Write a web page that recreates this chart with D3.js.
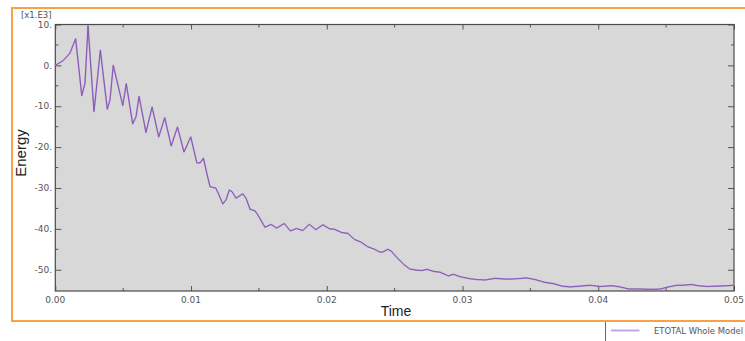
<!DOCTYPE html>
<html><head><meta charset="utf-8">
<script src="https://cdn.jsdelivr.net/npm/d3@7"></script>
<style>html,body{margin:0;padding:0;background:#fff;}svg{display:block;}</style>
</head><body>
<svg id="chart" width="745" height="341"></svg>
<script>
// Time (s)
const time = [0,0.00057,0.00108,0.0015,0.00195,0.00219,0.00241,0.00285,0.00332,0.00383,0.00403,0.00427,0.00452,0.00497,0.00523,0.0057,0.00595,0.00617,0.00668,0.00713,0.00762,0.00806,0.00854,0.009,0.00948,0.00998,0.01042,0.01066,0.01091,0.01116,0.0114,0.01182,0.01201,0.01234,0.01258,0.01282,0.01302,0.01332,0.01381,0.01405,0.01435,0.01472,0.01496,0.01545,0.0159,0.0163,0.01687,0.01732,0.01777,0.01823,0.01871,0.0192,0.01971,0.02021,0.02057,0.0211,0.02155,0.02205,0.0225,0.02303,0.02346,0.02393,0.02417,0.02448,0.02474,0.02516,0.02565,0.02609,0.02663,0.027,0.02737,0.02786,0.02835,0.02896,0.02933,0.02982,0.03056,0.03105,0.03167,0.0324,0.03326,0.034,0.03474,0.03535,0.03609,0.0367,0.03732,0.03793,0.03867,0.0394,0.04014,0.041,0.04162,0.04223,0.04309,0.04383,0.04457,0.04517,0.04579,0.04628,0.04682,0.04738,0.048,0.04874,0.04948,0.05];
// ETOTAL Whole Model (x1.E3)
const energy = [0,1.15,3.0,6.5,-7.4,-4.3,9.7,-11.3,3.7,-10.7,-8.4,0.0,-3.5,-9.8,-4.5,-14.3,-12.5,-7.6,-16.4,-10.2,-17.5,-12.8,-19.7,-15.1,-21.2,-17.5,-23.8,-23.9,-22.7,-26.4,-29.7,-30.0,-31.3,-33.9,-32.9,-30.5,-30.9,-32.5,-31.4,-32.5,-35.2,-35.6,-36.8,-39.6,-38.9,-39.8,-38.7,-40.5,-39.9,-40.4,-38.9,-40.2,-39.0,-40.0,-40.1,-40.9,-41.1,-42.6,-43.2,-44.4,-44.9,-45.7,-45.6,-45.0,-45.4,-47.0,-48.6,-49.8,-50.1,-50.2,-49.9,-50.4,-50.6,-51.5,-51.1,-51.7,-52.2,-52.4,-52.5,-52.1,-52.3,-52.2,-52.0,-52.4,-53.1,-53.4,-54.0,-54.2,-54.0,-53.8,-54.1,-53.9,-54.2,-54.7,-54.7,-54.8,-54.7,-54.2,-53.8,-53.8,-53.6,-53.9,-54.1,-54.0,-53.9,-53.8];
const xTicks = [0,0.01,0.02,0.03,0.04,0.05];
const xTickLabels = ["0.00","0.01","0.02","0.03","0.04","0.05"];
const yTicks = [10,0,-10,-20,-30,-40,-50];
const yTickLabels = ["10.","0.","-10.","-20.","-30.","-40.","-50."];
const xMinor = [0.005,0.015,0.025,0.035,0.045];
const yMinor = [5,-5,-15,-25,-35,-45];
const seriesName = "ETOTAL Whole Model";
const scaleLabel = "[x1.E3]";

const svg = d3.select("#chart");
const L = 55.3, R = 734, T = 24.5, B = 291;
const x = d3.scaleLinear().domain([0,0.05]).range([L,R]);
const y = d3.scaleLinear().domain([-55.2,10]).range([B,T]);

// orange frame
svg.append("rect").attr("x",12).attr("y",8).attr("width",760).attr("height",313)
  .attr("fill","none").attr("stroke","#f8a145").attr("stroke-width",2);

// plot bg
svg.append("rect").attr("x",L).attr("y",T).attr("width",R-L).attr("height",B-T).attr("fill","#d8d8d8");

const tickCol = "#555";
// bottom axis
const gB = svg.append("g").attr("transform",`translate(0,${B})`);
gB.call(d3.axisBottom(x).tickValues(xTicks).tickSize(-5).tickFormat(""));
gB.call(g=>g.selectAll(".domain").remove());
gB.selectAll(".minor").data(xMinor).enter().append("line").attr("x1",d=>x(d)).attr("x2",d=>x(d)).attr("y1",0).attr("y2",-3).attr("stroke",tickCol);
// top axis
const gT = svg.append("g").attr("transform",`translate(0,${T})`);
gT.call(d3.axisTop(x).tickValues(xTicks).tickSize(-5).tickFormat(""));
gT.call(g=>g.selectAll(".domain").remove());
gT.selectAll(".minor").data(xMinor).enter().append("line").attr("x1",d=>x(d)).attr("x2",d=>x(d)).attr("y1",0).attr("y2",3).attr("stroke",tickCol);
// left axis
const gL = svg.append("g").attr("transform",`translate(${L},0)`);
gL.call(d3.axisLeft(y).tickValues(yTicks).tickSize(-6).tickFormat(""));
gL.call(g=>g.selectAll(".domain").remove());
gL.selectAll(".minor").data(yMinor).enter().append("line").attr("y1",d=>y(d)).attr("y2",d=>y(d)).attr("x1",0).attr("x2",3).attr("stroke",tickCol);
// right axis
const gR = svg.append("g").attr("transform",`translate(${R},0)`);
gR.call(d3.axisRight(y).tickValues(yTicks).tickSize(-6).tickFormat(""));
gR.call(g=>g.selectAll(".domain").remove());
gR.selectAll(".minor").data(yMinor).enter().append("line").attr("y1",d=>y(d)).attr("y2",d=>y(d)).attr("x1",0).attr("x2",-3).attr("stroke",tickCol);
svg.selectAll(".tick line").attr("stroke",tickCol);

// border
svg.append("rect").attr("x",L).attr("y",T).attr("width",R-L).attr("height",B-T)
  .attr("fill","none").attr("stroke","#4a4a4a").attr("stroke-width",1.2);

// tick labels
const font = "DejaVu Sans, Verdana, sans-serif";
svg.append("g").selectAll("text").data(xTicks).enter().append("text")
  .attr("x",d=>x(d)).attr("y",B+11.5).attr("text-anchor","middle")
  .attr("font-family",font).attr("font-size",9).attr("fill","#555")
  .text((d,i)=>xTickLabels[i]);
svg.append("g").selectAll("text").data(yTicks).enter().append("text")
  .attr("x",52).attr("y",d=>y(d)+3.2).attr("text-anchor","end")
  .attr("font-family",font).attr("font-size",9).attr("fill","#555")
  .text((d,i)=>yTickLabels[i]);
svg.append("text").attr("x",21).attr("y",18).attr("font-family",font).attr("font-size",8.5).attr("fill","#555").text(scaleLabel);

// axis titles
svg.append("text").attr("transform","translate(26,153) rotate(-90)").attr("text-anchor","middle")
  .attr("font-family","Liberation Sans, Arial, sans-serif").attr("font-size",15).attr("fill","#222").text("Energy");
svg.append("text").attr("x",396).attr("y",316).attr("text-anchor","middle")
  .attr("font-family","Liberation Sans, Arial, sans-serif").attr("font-size",14).attr("fill","#222").text("Time");

// series line
const line = d3.line().x((d,i)=>x(time[i])).y(d=>y(d));
svg.append("path").datum(energy).attr("d",line).attr("fill","none")
  .attr("stroke","#a987d0").attr("stroke-width",1.6).attr("stroke-linejoin","round").attr("opacity",0.75);
svg.append("path").datum(energy).attr("d",line).attr("fill","none")
  .attr("stroke","#7b45ad").attr("stroke-width",0.8).attr("stroke-linejoin","round");

// legend
svg.append("line").attr("x1",605.5).attr("x2",605.5).attr("y1",322).attr("y2",341).attr("stroke","#666").attr("stroke-width",1);
svg.append("line").attr("x1",611).attr("x2",639.5).attr("y1",330.5).attr("y2",330.5).attr("stroke","#c9a2e8").attr("stroke-width",2);
svg.append("text").attr("x",654).attr("y",334).attr("font-family",font).attr("font-size",8.2)
  .attr("textLength",89).attr("lengthAdjust","spacingAndGlyphs").attr("fill","#555").text(seriesName);
</script>
</body></html>
